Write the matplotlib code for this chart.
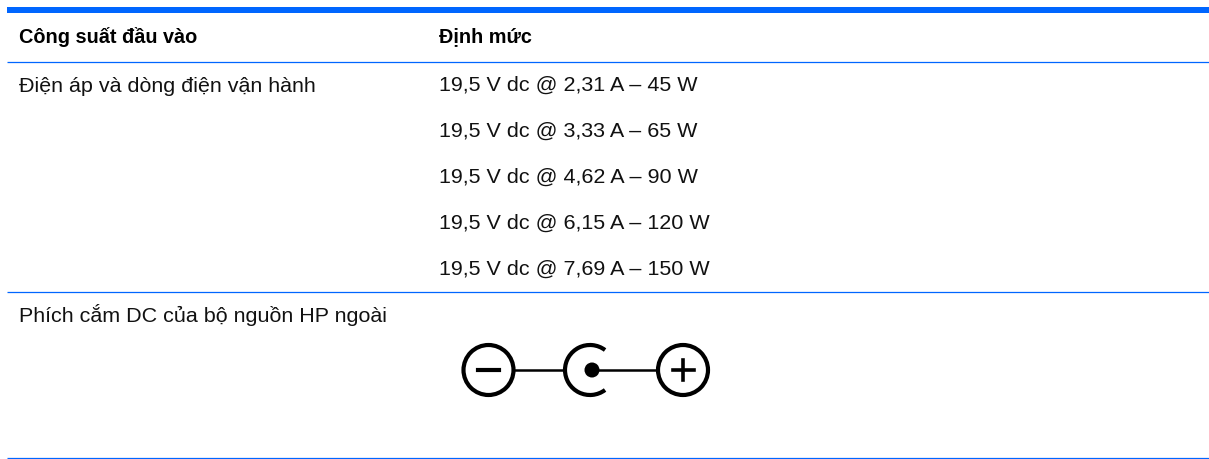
import numpy as np
import matplotlib
matplotlib.use("Agg")
import matplotlib.pyplot as plt
from matplotlib.patches import Circle, Arc

W, H = 1209, 459
BLUE = "#0066ff"
headers = ["Công suất đầu vào", "Định mức"]
row_labels = ["Điện áp và dòng điện vận hành", "Phích cắm DC của bộ nguồn HP ngoài"]
ratings = ["19,5 V dc @ 2,31 A – 45 W", "19,5 V dc @ 3,33 A – 65 W",
           "19,5 V dc @ 4,62 A – 90 W", "19,5 V dc @ 6,15 A – 120 W",
           "19,5 V dc @ 7,69 A – 150 W"]

plt.rcParams['font.family'] = ['Liberation Sans', 'DejaVu Sans']
fig = plt.figure(figsize=(W/100, H/100), dpi=100)
ax = fig.add_axes([0, 0, 1, 1])
ax.set_xlim(0, W); ax.set_ylim(H, 0); ax.axis('off')

FS = 15.45
HFS = 14.3
TC = "#111111"
ax.fill_between([7, W], 7, 13, color=BLUE, lw=0)
for y in [62, 292, 458]:
    ax.plot([7, W], [y, y], color=BLUE, lw=0.9, solid_capstyle='butt')

x1, x2 = 19, 439
ax.text(x1, 43, headers[0], fontsize=HFS, fontweight='bold', color='black', va='baseline')
ax.text(x2, 42.2, headers[1], fontsize=HFS, fontweight='bold', color='black', va='baseline')
ax.text(x1, 91.8, row_labels[0], fontsize=FS, color=TC, va='baseline')
ys = [91, 137, 183, 229, 275]
for y, r in zip(ys, ratings):
    ax.text(x2, y, r, fontsize=FS, color=TC, va='baseline')
ax.text(x1, 321.8, row_labels[1], fontsize=FS, color=TC, va='baseline')

# connector symbol
cy = 370
lw = 2.2
ax.add_patch(Circle((488.5, cy), 25, fill=False, ec='black', lw=lw+0.8))
ax.add_patch(Circle((683, cy), 25, fill=False, ec='black', lw=lw+0.8))
ax.add_patch(Arc((590, cy), 50, 50, theta1=53, theta2=307, ec='black', lw=lw+0.8))
ax.add_patch(Circle((592, cy), 7.5, fc='black', ec='none'))
ax.plot([514, 564], [cy, cy], color='black', lw=lw-0.4)
ax.plot([592, 657], [cy, cy], color='black', lw=lw-0.4)
ax.plot([478, 499], [cy, cy], color='black', lw=3)
ax.plot([673, 694], [cy, cy], color='black', lw=2.6)
ax.plot([683, 683], [cy-10, cy+10], color='black', lw=2.6)

fig.savefig("out.png", dpi=100, facecolor='white')
